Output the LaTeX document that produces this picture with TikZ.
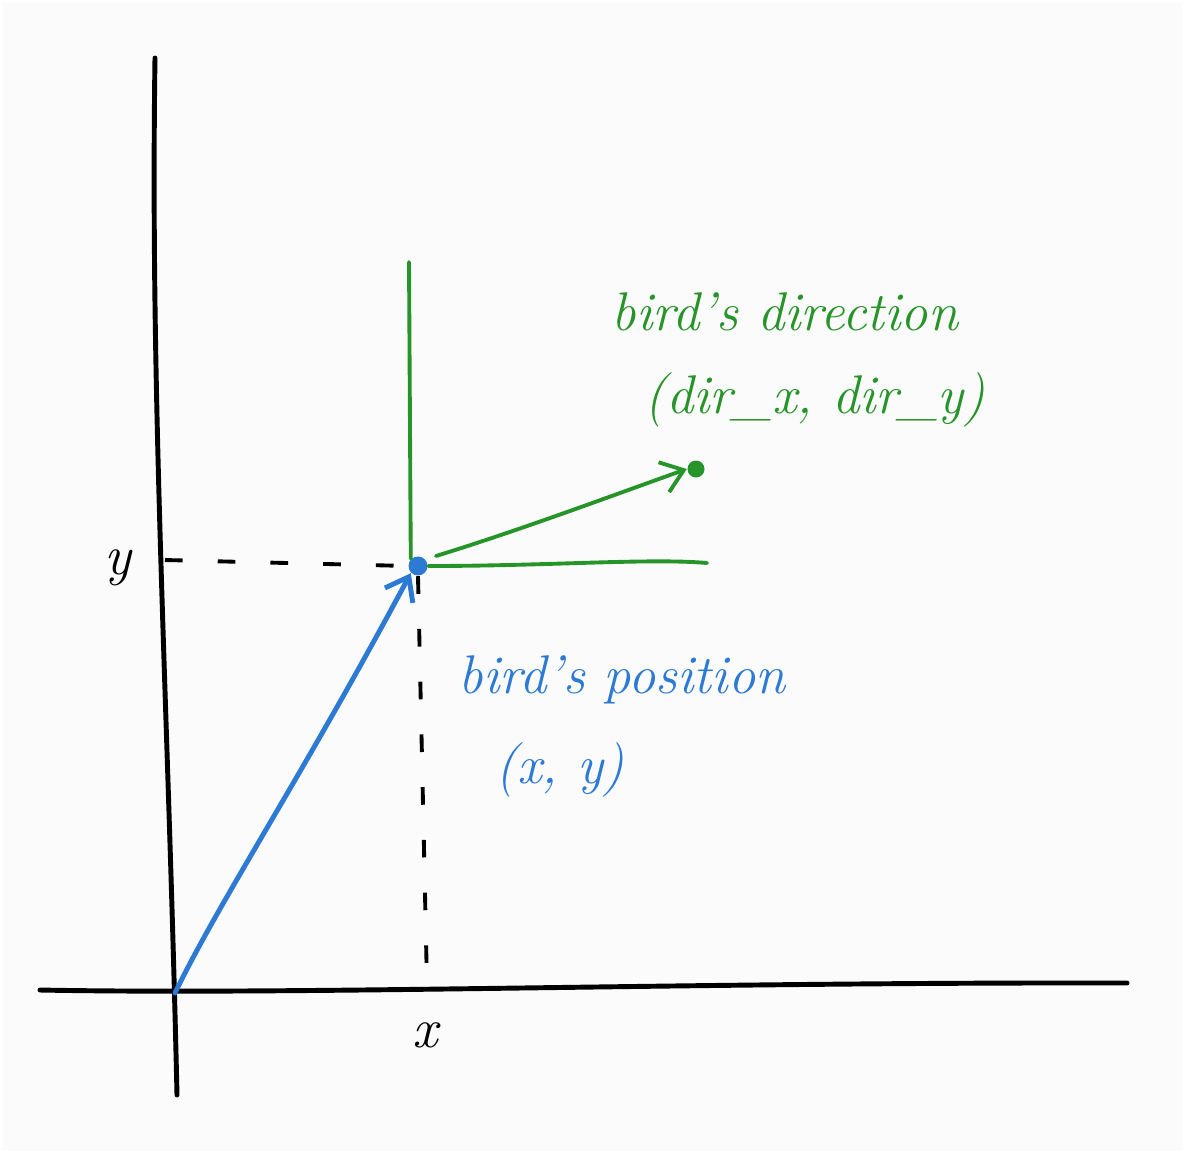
\documentclass[tikz,border=0pt]{standalone}
\usepackage{tikz}
\usetikzlibrary{arrows.meta,positioning,calc}
\usepackage{xcolor}
\definecolor{birdgreen}{RGB}{38,148,40}
\definecolor{birdblue}{RGB}{44,122,212}
\definecolor{paper}{RGB}{251,251,251}

\begin{document}
\begin{tikzpicture}[
    x=0.01cm, y=-0.01cm,
    axis/.style={line width=1.4pt, black, line cap=round},
    guide/.style={line width=1.1pt, black, dash pattern=on 5pt off 10pt},
    frame/.style={line width=1.1pt, birdgreen, line cap=round},
    pointer/.style={-{Straight Barb[length=6pt,width=9pt]}, line width=1.1pt, line cap=round},
    dot/.style={circle, inner sep=0pt, minimum size=#1},
    hand/.style={font=\fontsize{15.5}{18}\selectfont\itshape, inner sep=1pt},
    axlabel/.style={font=\fontsize{16}{18}\selectfont\itshape, inner sep=1pt}
]
% paper
\fill[white] (0,0) rectangle (1185,1154);
\fill[paper] (3,3) rectangle (1182,1151);
\useasboundingbox (0,0) rectangle (1185,1154);

% axes
\coordinate (ytop) at (155,58);
\coordinate (ybot) at (177,1095);
\coordinate (xleft) at (40,990);
\coordinate (xright) at (1127,983);
\coordinate (origin) at (175,993);
\draw[axis] (ytop) .. controls (150,400) and (168,700) .. (ybot);
\draw[axis] (xleft) .. controls (300,995) and (700,982) .. (xright);
\node[axlabel] (ylab) at (118,568) {y};
\node[axlabel] (xlab) at (425,1035) {x};

% bird
\node[dot=0.19cm, fill=birdblue] (pos) at (418,566) {};
\node[dot=0.17cm, fill=birdgreen] (dir) at (696,469) {};
\coordinate (yguide) at (165,560);
\coordinate (xguide) at (427,985);
\draw[guide] (yguide) -- (pos.west);
\draw[guide] (pos.south) -- (xguide);

% local frame
\coordinate (gtop) at (409,262);
\coordinate (gright) at (707,563);
\draw[frame] (gtop) -- (pos.north west);
\draw[frame] (pos.east) .. controls (550,566) and (650,558) .. (gright);
\draw[frame, pointer, birdgreen] ($(pos)+(18,-10)$) .. controls (520,530) and (600,500) .. (dir.west);

% position vector
\draw[pointer, birdblue, line width=1.4pt] (origin) .. controls (220,900) and (300,780) .. (pos.south west);

% labels
\node[hand, birdgreen] (dirname) at (785,312) {bird's direction};
\node[hand, birdgreen] (dircoord) at (815,400) {(dir\_x, dir\_y)};
\node[hand, birdblue] (posname) at (622,680) {bird's position};
\node[hand, birdblue] (poscoord) at (560,770) {(x, y)};
\end{tikzpicture}
\end{document}
